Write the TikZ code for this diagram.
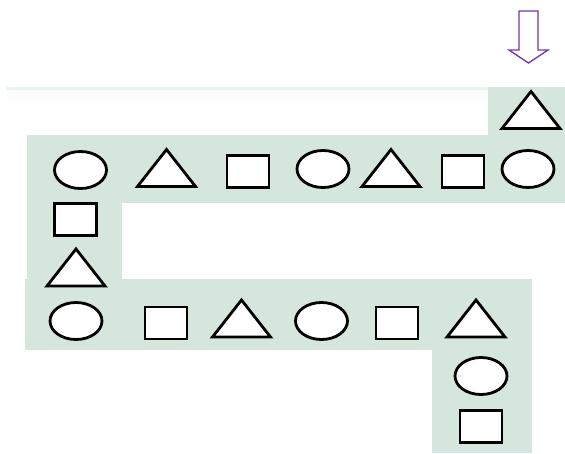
\documentclass[tikz,border=0pt]{standalone}
\definecolor{band}{RGB}{213,230,221}
\definecolor{arrowpurple}{RGB}{118,52,170}
\begin{document}
\begin{tikzpicture}[x=1pt,y=-1pt,
  outl/.style={draw=black, line width=2.8pt, fill=white, line join=miter},
  bandfill/.style={fill=band},
  tri/.pic={\path[outl] (-29,18.5) -- (0,-18.5) -- (29,18.5) -- cycle;},
  sqr/.pic={\path[outl] (-21,-16) rectangle (21,16);},
  ov/.pic={\path[outl] (0,0) ellipse [x radius=26pt, y radius=18.5pt];},
  hollowarrow/.style={draw=arrowpurple, line width=1.3pt, fill=white, line join=miter}
]
\useasboundingbox (0,0) rectangle (565,453);
% background strip and bands
\fill[band!45] (6,86.5) rectangle (488,89.5);
\fill[band!10] (6,89.5) rectangle (488,100);
\fill[bandfill] (488,87) rectangle (565,135);
\fill[bandfill] (27,135) rectangle (565,203);
\fill[bandfill] (27,203) rectangle (122,280);
\fill[bandfill] (25,279) rectangle (532,350);
\fill[bandfill] (432,350) rectangle (532,453);
% arrow
\path[hollowarrow] (519,11) -- (538,11) -- (538,50) -- (548,50) -- (528.5,63)
  -- (509,50) -- (519,50) -- cycle;
% top
\pic at (531,110) {tri};
% row 1
\pic at (80.5,170) {ov};
\pic at (166.5,168) {tri};
\pic at (248,171.5) {sqr};
\pic at (323,169) {ov};
\pic at (391,168) {tri};
\pic at (463,171.5) {sqr};
\pic at (528,169) {ov};
% left column
\pic at (75.5,219.5) {sqr};
\pic at (76,267.5) {tri};
% row 2
\pic at (76,321) {ov};
\pic at (166,323) {sqr};
\pic at (241.5,318.5) {tri};
\pic at (321.5,321) {ov};
\pic at (397,323) {sqr};
\pic at (476,318.5) {tri};
% bottom column
\pic at (481,376) {ov};
\pic at (481,426.5) {sqr};
\end{tikzpicture}
\end{document}
